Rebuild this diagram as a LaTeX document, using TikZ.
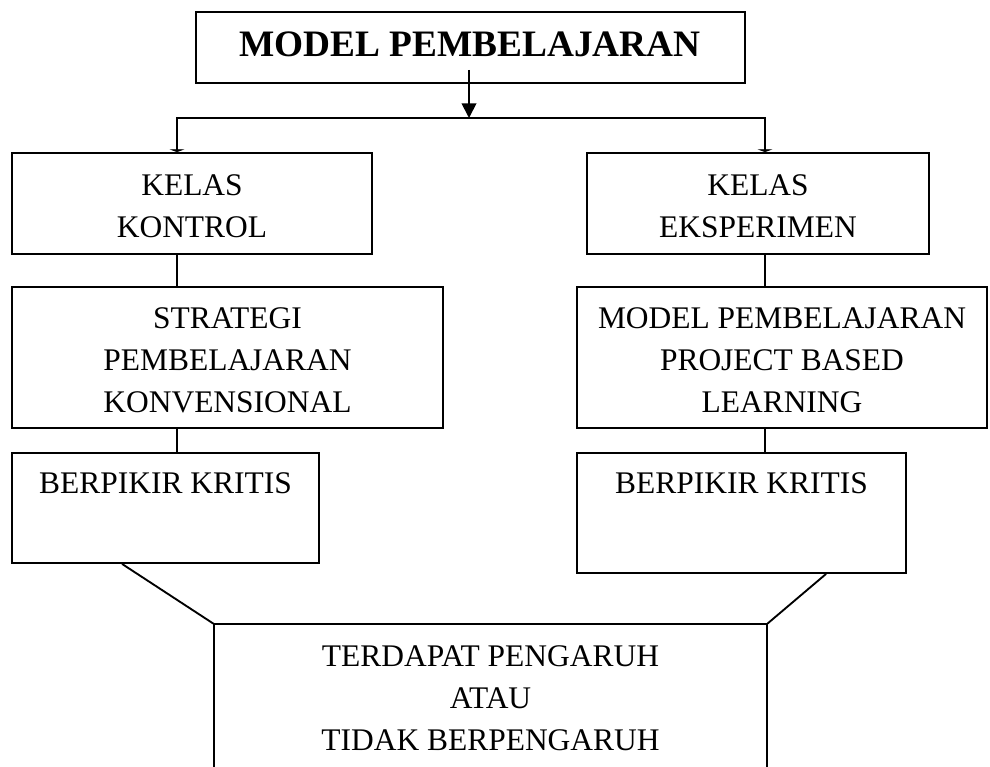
\documentclass[tikz,border=0pt]{standalone}
\usepackage{fontspec}
\setmainfont{Liberation Serif}
\usetikzlibrary{arrows.meta,fit,calc}

\tikzset{every picture/.style={line width=1.4pt}}
\tikzset{
	kotak/.style={draw, inner sep=0pt},
	teks/.style={inner sep=0pt, align=center, font=\fontsize{23.6}{31.5}\selectfont},
}

\begin{document}
\begin{tikzpicture}[x=0.75pt,y=0.75pt,yscale=-1,xscale=1]
	\useasboundingbox (0,0) rectangle (990,767);

	%Shape: Rectangle judul
	\node[kotak, fit={(196,12) (745,83)}] (judul) {};
	% Text Node
	\node[teks, font=\fontsize{28}{33}\selectfont\bfseries] (judulteks) at (470,44.5) {MODEL PEMBELAJARAN};

	%Shape: Rectangle kelas
	\node[kotak, fit={(12,153) (372,254)}] (kontrol) {};
	\node[kotak, fit={(587,153) (929,254)}] (eksperimen) {};
	% Text Node
	\node[teks] (tekskontrol) at ($(kontrol.center)+(0,3)$) {KELAS\\KONTROL};
	% Text Node
	\node[teks] (tekseksperimen) at ($(eksperimen.center)+(0,3)$) {KELAS\\EKSPERIMEN};

	%Shape: Rectangle perlakuan
	\node[kotak, fit={(12,287) (443,428)}] (strategi) {};
	\node[kotak, fit={(577,287) (987,428)}] (pjbl) {};
	% Text Node
	\node[teks] (teksstrategi) at ($(strategi.center)+(0,2.5)$) {STRATEGI\\PEMBELAJARAN\\KONVENSIONAL};
	% Text Node
	\node[teks] (tekspjbl) at ($(pjbl.center)+(0,2.5)$) {MODEL PEMBELAJARAN\\PROJECT BASED\\LEARNING};

	%Shape: Rectangle berpikir kritis
	\node[kotak, fit={(12,453) (319,563)}] (kritiskontrol) {};
	\node[kotak, fit={(577,453) (906,573)}] (kritiseksperimen) {};
	% Text Node
	\node[teks, anchor=north] (tekskritiskontrol) at ($(kritiskontrol.north)+(0,20)$) {BERPIKIR KRITIS};
	% Text Node
	\node[teks, anchor=north] (tekskritiseksperimen) at ($(kritiseksperimen.north)+(0,20)$) {BERPIKIR KRITIS};

	%Shape: Rectangle hasil (terbuka di bawah)
	\node[inner sep=0pt, fit={(215,625) (766,767)}] (hasil) {};
	\draw (hasil.south west) -- (hasil.north west) -- (hasil.north east) -- (hasil.south east);
	% Text Node
	\node[teks, anchor=north] (tekshasil) at ($(hasil.north)+(0,21)$) {TERDAPAT PENGARUH\\ATAU\\TIDAK BERPENGARUH};

	%Connectors
	\coordinate (pangkal) at (469,70);
	\coordinate (cabang) at (469,118);
	\coordinate (kiri) at (177,118);
	\coordinate (kanan) at (765,118);
	\draw[-{Triangle[length=11pt,width=11pt]}] (pangkal) -- (cabang);
	\draw[{Triangle[length=2pt,width=11pt]}-{Triangle[length=2pt,width=11pt]}] (kiri |- kontrol.north) -- (kiri) -- (kanan) -- (kanan |- eksperimen.north);
	\draw (kontrol.south -| kiri) -- (strategi.north -| kiri);
	\draw (strategi.south -| kiri) -- (kritiskontrol.north -| kiri);
	\draw (eksperimen.south -| kanan) -- (pjbl.north -| kanan);
	\draw (pjbl.south -| kanan) -- (kritiseksperimen.north -| kanan);
	\draw ($(kritiskontrol.south west)+(111,0)$) -- (hasil.north west);
	\draw ($(kritiseksperimen.south west)+(250,0)$) -- (hasil.north east);

\end{tikzpicture}
\end{document}
